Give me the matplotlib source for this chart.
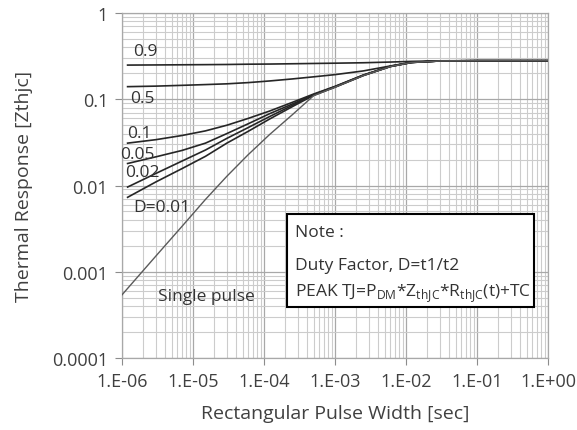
import matplotlib
matplotlib.use("Agg")
import matplotlib.pyplot as plt
from matplotlib.patches import Rectangle
from matplotlib.ticker import LogLocator, NullFormatter

plt.rcParams['font.family'] = ['Open Sans', 'DejaVu Sans']

# pulse widths [sec] for duty-cycle curves
t_duty = [1.2e-6, 3e-6, 7e-6, 1.5e-5, 3e-5, 6e-5, 1.2e-4, 2.5e-4, 5e-4,
          1e-3, 2.5e-3, 6e-3, 1.2e-2, 3e-2, 1e-1, 1.0]
z_d09 = [0.249, 0.250, 0.251, 0.252, 0.253, 0.255, 0.256, 0.258, 0.260,
         0.262, 0.265, 0.270, 0.275, 0.279, 0.280, 0.280]
z_d05 = [0.140, 0.142, 0.145, 0.148, 0.151, 0.156, 0.163, 0.172, 0.182,
         0.193, 0.213, 0.243, 0.268, 0.278, 0.280, 0.280]
z_d01 = [0.031, 0.034, 0.038, 0.043, 0.050, 0.060, 0.073, 0.092, 0.115,
         0.141, 0.191, 0.241, 0.268, 0.278, 0.280, 0.280]
z_d005 = [0.018, 0.0215, 0.0255, 0.031, 0.040, 0.052, 0.068, 0.088, 0.113,
          0.140, 0.190, 0.240, 0.267, 0.278, 0.280, 0.280]
z_d002 = [0.0096, 0.0138, 0.0192, 0.0258, 0.0352, 0.047, 0.063, 0.085, 0.112,
          0.139, 0.189, 0.240, 0.267, 0.278, 0.280, 0.280]
z_d001 = [0.0073, 0.011, 0.0157, 0.0218, 0.031, 0.0425, 0.059, 0.082, 0.111,
          0.138, 0.188, 0.239, 0.267, 0.278, 0.280, 0.280]

t_single = [1e-6, 3e-6, 7e-6, 1.5e-5, 3e-5, 6e-5, 1.2e-4, 2.5e-4, 5e-4,
            1e-3, 2.5e-3, 6e-3, 1.2e-2, 3e-2, 1e-1, 1.0]
z_single = [5.4e-4, 1.52e-3, 3.36e-3, 0.0069, 0.0128, 0.0228, 0.039, 0.066,
            0.110, 0.138, 0.188, 0.239, 0.267, 0.278, 0.280, 0.280]

x_ticks = [1e-6, 1e-5, 1e-4, 1e-3, 1e-2, 1e-1, 1.0]
x_labels = ['1.E-06', '1.E-05', '1.E-04', '1.E-03', '1.E-02', '1.E-01', '1.E+00']
y_ticks = [1e-4, 1e-3, 1e-2, 1e-1, 1.0]
y_labels = ['0.0001', '0.001', '0.01', '0.1', '1']

# curve labels: text, x, y
curve_labels = [('0.9', 1.43e-6, 0.367), ('0.5', 1.3e-6, 0.1035),
                ('0.1', 1.2e-6, 0.0411), ('0.05', 0.94e-6, 0.0229),
                ('0.02', 1.1e-6, 0.01416), ('D=0.01', 1.43e-6, 0.00571),
                ('Single pulse', 3.2e-6, 5.17e-4)]

fig = plt.figure(figsize=(5.77, 4.31), dpi=100)
ax = fig.add_axes([0.2114, 0.167, 0.7383, 0.8005])

for z in [z_d09, z_d05, z_d01, z_d005, z_d002, z_d001]:
    ax.plot(t_duty, z, color='#262626', lw=1.2, zorder=3)
ax.plot(t_single, z_single, color='#5a5a5a', lw=1.0, zorder=3)

ax.set_xscale('log')
ax.set_yscale('log')
ax.set_xlim(1e-6, 1.0)
ax.set_ylim(1e-4, 1.0)

ax.set_xticks(x_ticks)
ax.set_xticklabels(x_labels)
ax.set_yticks(y_ticks)
ax.set_yticklabels(y_labels)
ax.xaxis.set_minor_locator(LogLocator(base=10, subs=range(2, 10), numticks=50))
ax.yaxis.set_minor_locator(LogLocator(base=10, subs=range(2, 10), numticks=50))
ax.xaxis.set_minor_formatter(NullFormatter())
ax.yaxis.set_minor_formatter(NullFormatter())
ax.tick_params(which='major', length=5, width=0.8, color='#8c8c8c',
               labelsize=13, labelcolor='#404040', pad=5)
ax.tick_params(which='minor', length=0)

ax.grid(which='major', color='#a8a8a8', lw=0.9)
ax.grid(which='minor', color='#cccccc', lw=0.8)
ax.set_axisbelow(True)
for s in ax.spines.values():
    s.set_color('#a8a8a8')
    s.set_linewidth(0.9)

for txt, x, y in curve_labels:
    ax.text(x, y, txt, fontsize=12.5, color='#333333', ha='left', va='center', zorder=4)

ax.set_xlabel('Rectangular Pulse Width [sec]', fontsize=14, color='#404040', labelpad=10)
ax.set_ylabel('Thermal Response [Zthjc]', fontsize=14, color='#404040', labelpad=14)

ax.add_patch(Rectangle((0.387, 0.148), 0.58, 0.269, transform=ax.transAxes,
                       facecolor='white', edgecolor='black', lw=1.5, zorder=5))
ax.text(0.406, 0.364, 'Note :', transform=ax.transAxes, fontsize=12.5,
        color='#333333', va='center', zorder=6)
ax.text(0.406, 0.270, 'Duty Factor, D=t1/t2', transform=ax.transAxes, fontsize=12.5,
        color='#333333', va='center', zorder=6)
ax.text(0.406, 0.188,
        r'PEAK TJ=P$_\mathregular{DM}$*Z$_\mathregular{thJC}$*R$_\mathregular{thJC}$(t)+TC',
        transform=ax.transAxes, fontsize=12.5, color='#333333', va='center', zorder=6)

fig.savefig('out.png', dpi=100)
